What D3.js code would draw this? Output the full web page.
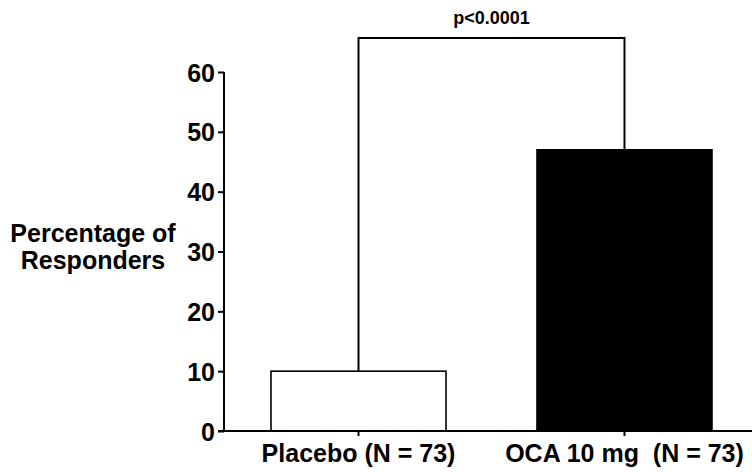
<!DOCTYPE html>
<html>
<head>
<meta charset="utf-8">
<script src="https://cdn.jsdelivr.net/npm/d3@7"></script>
<style>
  html, body { margin: 0; padding: 0; background: #fff; }
  svg { display: block; }
  text { font-family: "Liberation Sans", Arial, sans-serif; font-weight: bold; fill: #000; }
</style>
</head>
<body>
<svg id="chart" width="752" height="472"></svg>
<script>
// ---- data ----
const categories = ["Placebo (N = 73)", "OCA 10 mg  (N = 73)"];
const values = [10, 47];
const barFills = ["#ffffff", "#000000"];
const yTicks = [0, 10, 20, 30, 40, 50, 60];
const yTitle = ["Percentage of", "Responders"];
const pLabel = "p<0.0001";
const bracketLevel = 65.7;

const svg = d3.select("#chart");

const y = d3.scaleLinear().domain([0, 60]).range([431, 72]);
const x = d3.scaleBand().domain(categories).range([224, 759])
  .paddingInner(0.342).paddingOuter(0.1767);

// bars
svg.selectAll("rect.bar").data(values).join("rect")
  .attr("class", "bar")
  .attr("x", (d, i) => x(categories[i]))
  .attr("y", d => y(d))
  .attr("width", x.bandwidth())
  .attr("height", d => y(0) - y(d))
  .attr("fill", (d, i) => barFills[i])
  .attr("stroke", "#000")
  .attr("stroke-width", 1.6);

// y axis
const yAxis = d3.axisLeft(y).tickValues(yTicks).tickSize(6).tickPadding(3);
const gy = svg.append("g").attr("transform", "translate(224,0)").call(yAxis);
gy.select(".domain").attr("stroke", "#000").attr("stroke-width", 2)
  .attr("d", `M0,${y(60)}V${y(0)}`);
gy.selectAll(".tick line").attr("stroke", "#000").attr("stroke-width", 2);
gy.selectAll(".tick text")
  .style("font-size", "25px").style("font-weight", "bold")
  .attr("font-family", "Liberation Sans, Arial, sans-serif")
  .attr("dy", "0.36em").attr("fill", "#000");

// x axis
const xAxis = d3.axisBottom(x).tickSize(5).tickPadding(8);
const gx = svg.append("g").attr("transform", `translate(0,${y(0)})`).call(xAxis);
gx.select(".domain").attr("stroke", "#000").attr("stroke-width", 2)
  .attr("d", "M218,0H752");
gx.selectAll(".tick line").attr("stroke", "#000").attr("stroke-width", 2);
gx.selectAll(".tick text")
  .style("font-size", "25px").style("font-weight", "bold")
  .style("white-space", "pre")
  .attr("font-family", "Liberation Sans, Arial, sans-serif")
  .attr("fill", "#000").attr("dy", "0.71em");

// significance bracket
const cx = categories.map(c => x(c) + x.bandwidth() / 2);
svg.append("path")
  .attr("d", `M${cx[0]},${y(values[0])}V${y(bracketLevel)}H${cx[1]}V${y(values[1])}`)
  .attr("fill", "none").attr("stroke", "#000").attr("stroke-width", 2);
svg.append("text")
  .attr("x", (cx[0] + cx[1]) / 2).attr("y", 24)
  .attr("text-anchor", "middle")
  .style("font-size", "18px")
  .text(pLabel);

// y title
svg.append("text")
  .attr("x", 93).attr("y", 242)
  .attr("text-anchor", "middle")
  .style("font-size", "25px")
  .selectAll("tspan").data(yTitle).join("tspan")
  .attr("x", 93).attr("dy", (d, i) => i === 0 ? 0 : 27)
  .text(d => d);
</script>
</body>
</html>
